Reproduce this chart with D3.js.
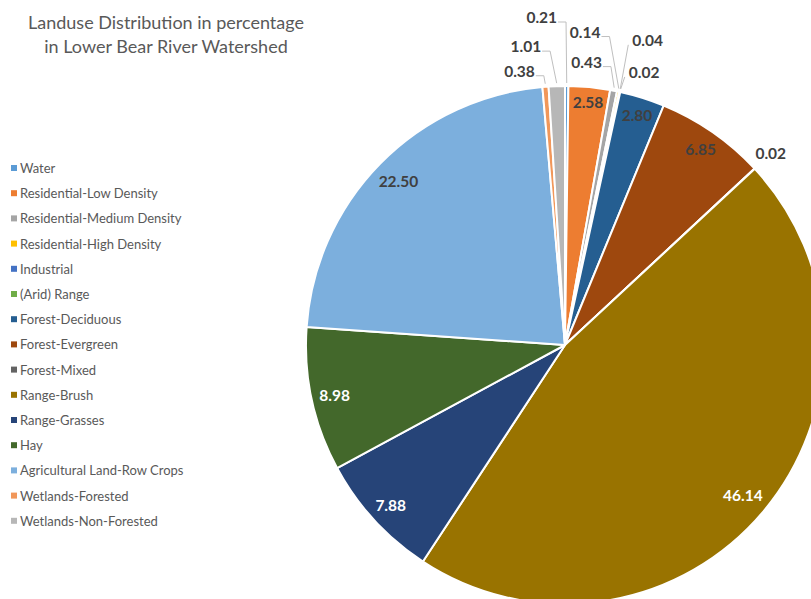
<!DOCTYPE html>
<html>
<head>
<meta charset="utf-8">
<script src="https://cdn.jsdelivr.net/npm/d3@7"></script>
<style>
  html, body { margin: 0; padding: 0; background: #fff; overflow: hidden; }
  svg { display: block; font-family: Lato, "Open Sans", sans-serif; }
</style>
</head>
<body>
<svg id="chart" width="811" height="599"></svg>
<script>
// Land use classes, in slice order (clockwise from 12 o'clock)
const categories = [
  "Water",
  "Residential-Low Density",
  "Residential-Medium Density",
  "Residential-High Density",
  "Industrial",
  "(Arid) Range",
  "Forest-Deciduous",
  "Forest-Evergreen",
  "Forest-Mixed",
  "Range-Brush",
  "Range-Grasses",
  "Hay",
  "Agricultural Land-Row Crops",
  "Wetlands-Forested",
  "Wetlands-Non-Forested"
];

// Share of watershed area, percent
const values = [0.21, 2.58, 0.43, 0.14, 0.04, 0.02, 2.80, 6.85, 0.02, 46.14, 7.88, 8.98, 22.50, 0.38, 1.01];

const colors = [
  "#5B9BD5", "#ED7D31", "#A5A5A5", "#FFC000", "#4472C4",
  "#70AD47", "#255E91", "#9E480E", "#636363", "#997300",
  "#264478", "#43682B", "#7CAFDD", "#F1975A", "#B7B7B7"
];

// Dark slices get white value labels
const lightTextOn = ["Range-Brush", "Range-Grasses", "Hay"];

const titleLines = ["Landuse Distribution in percentage", "in Lower Bear River Watershed"];

// Placement of labels for the thin slices: offset from the slice's rim point,
// which side of the text the leader line leaves from, and the elbow length.
const outsideLabels = {
  "Water":                      { dx: -25, dy: -69, side: "end",   elbow: 8 },
  "Wetlands-Non-Forested":      { dx: -31, dy: -40, side: "end",   elbow: 8 },
  "Wetlands-Forested":          { dx: -26, dy: -16, side: "end",   elbow: 8 },
  "Residential-Medium Density": { dx: -27, dy: -29, side: "end",   elbow: 8 },
  "Residential-High Density":   { dx: -33, dy: -60, side: "end",   elbow: 8 },
  "Industrial":                 { dx:  28, dy: -52, side: "start", elbow: 0 },
  "(Arid) Range":               { dx:  24, dy: -20, side: "start", elbow: 0 },
  "Forest-Mixed":               { dx:  16, dy: -16, side: "none",  elbow: 0 }
};

const data = categories.map((name, i) => ({ name, value: values[i], color: colors[i] }));

const svg = d3.select("#chart");
const cx = 565, cy = 345, R = 259;
const fmt = d3.format(".2f");

// Title
svg.append("g")
  .selectAll("text")
  .data(titleLines)
  .join("text")
  .attr("x", 166)
  .attr("y", (d, i) => 29 + i * 24)
  .attr("text-anchor", "middle")
  .attr("font-size", 18)
  .attr("fill", "#595959")
  .text(d => d);

// Pie
const pie = d3.pie().sort(null).value(d => d.value);
const arcs = pie(data);
const arc = d3.arc().innerRadius(0).outerRadius(R);

const g = svg.append("g").attr("transform", `translate(${cx},${cy})`);

g.selectAll("path.slice")
  .data(arcs)
  .join("path")
  .attr("class", "slice")
  .attr("d", arc)
  .attr("fill", d => d.data.color)
  .attr("stroke", "#fff")
  .attr("stroke-width", 2)
  .attr("stroke-linejoin", "round");

const midAngle = d => (d.startAngle + d.endAngle) / 2;
const polar = (a, r) => [Math.sin(a) * r, -Math.cos(a) * r];

// Labels inside the larger slices, pushed out towards the rim
const inside = arcs.filter(d => !outsideLabels[d.data.name]);
const inLabels = g.selectAll("text.inlabel")
  .data(inside)
  .join("text")
  .attr("class", "inlabel")
  .attr("text-anchor", "middle")
  .attr("dominant-baseline", "central")
  .attr("font-size", 15.5)
  .attr("font-weight", 700)
  .attr("fill", d => lightTextOn.includes(d.data.name) ? "#ffffff" : "#404040")
  .text(d => fmt(d.data.value));

inLabels.each(function(d) {
  const w = this.getComputedTextLength() / 2;
  const h = 6;
  const a = midAngle(d);
  const sx = Math.sin(a), sy = -Math.cos(a);
  const limit = R - 7;
  let lo = 0, hi = R;
  for (let k = 0; k < 40; k++) {
    const rho = (lo + hi) / 2;
    const x = rho * sx + w * Math.sign(sx);
    const y = rho * sy + h * Math.sign(sy);
    if (Math.hypot(x, y) > limit) hi = rho; else lo = rho;
  }
  d3.select(this).attr("x", lo * sx).attr("y", lo * sy);
});

// Labels and leader lines for the thin slices
const outside = arcs.filter(d => outsideLabels[d.data.name]);
const outG = g.selectAll("g.outlabel")
  .data(outside)
  .join("g")
  .attr("class", "outlabel");

outG.each(function(d) {
  const cfg = outsideLabels[d.data.name];
  const a = midAngle(d);
  const rim = polar(a, R);
  const tip = polar(a, R + 3);
  const lx = rim[0] + cfg.dx, ly = rim[1] + cfg.dy;
  const t = d3.select(this).append("text")
    .attr("x", lx)
    .attr("y", ly)
    .attr("text-anchor", "middle")
    .attr("dominant-baseline", "central")
    .attr("font-size", 15.5)
    .attr("font-weight", 700)
    .attr("fill", "#404040")
    .text(fmt(d.data.value));
  if (cfg.side === "none") return;
  const w = t.node().getComputedTextLength() / 2;
  const ax = cfg.side === "end" ? lx + w + 1 : lx - w - 4;
  const ay = ly + 5;
  const pts = [[ax, ay], [ax + cfg.elbow, ay], tip];
  d3.select(this).insert("path", "text")
    .attr("d", d3.line()(pts))
    .attr("fill", "none")
    .attr("stroke", "#BFBFBF")
    .attr("stroke-width", 1);
});

// Legend
const legend = svg.append("g").attr("transform", "translate(11,168)");
const rows = legend.selectAll("g")
  .data(data)
  .join("g")
  .attr("transform", (d, i) => `translate(0,${i * 25.2})`);
rows.append("rect")
  .attr("x", 0).attr("y", -3)
  .attr("width", 6).attr("height", 6)
  .attr("fill", d => d.color);
rows.append("text")
  .attr("x", 9)
  .attr("y", 0)
  .attr("dominant-baseline", "central")
  .attr("font-size", 13)
  .attr("fill", "#595959")
  .text(d => d.name);
</script>
</body>
</html>
